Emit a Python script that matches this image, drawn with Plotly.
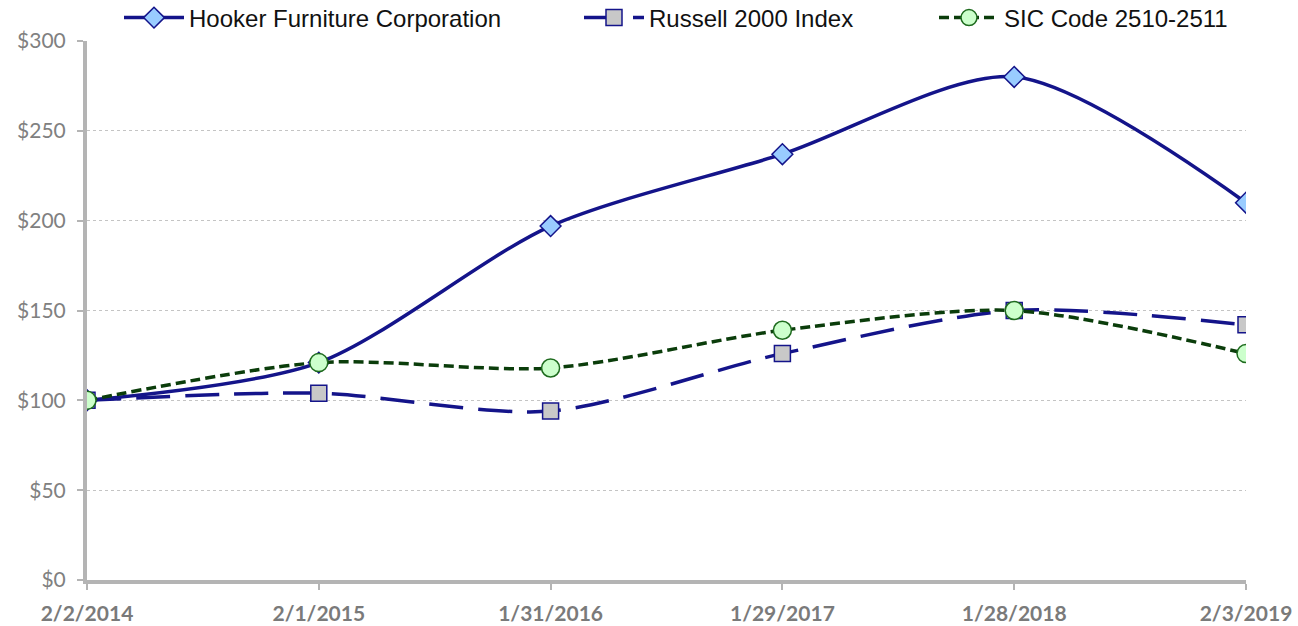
import plotly.graph_objects as go

dates = ["2/2/2014", "2/1/2015", "1/31/2016", "1/29/2017", "1/28/2018", "2/3/2019"]
hooker = [100, 121, 197, 237, 280, 210]
russell = [100, 104, 94, 126, 150, 142]
sic = [100, 121, 118, 139, 150, 126]
y_ticks = [0, 50, 100, 150, 200, 250, 300]
y_labels = ["$0", "$50", "$100", "$150", "$200", "$250", "$300"]

NAVY = "#14148a"
GREEN = "#0b3d0b"

fig = go.Figure()
fig.add_trace(go.Scatter(
    x=dates, y=hooker, name="Hooker Furniture Corporation", mode="lines+markers", legend="legend",
    line=dict(color=NAVY, width=3.5, shape="spline", smoothing=0.8),
    marker=dict(symbol="diamond", size=16, color="#99ccff", line=dict(color=NAVY, width=1.5))))
fig.add_trace(go.Scatter(
    x=dates, y=russell, name="Russell 2000 Index", mode="lines+markers", legend="legend2",
    line=dict(color=NAVY, width=3.5, shape="spline", smoothing=0.8, dash="34px,15px"),
    marker=dict(symbol="square", size=16, color="#c8c8c8", line=dict(color=NAVY, width=1.5))))
fig.add_trace(go.Scatter(
    x=dates, y=sic, name="SIC Code 2510-2511", mode="lines+markers", legend="legend3",
    line=dict(color=GREEN, width=3.5, shape="spline", smoothing=0.8, dash="10px,5px"),
    marker=dict(symbol="circle", size=18, color="#ccffcc", line=dict(color="#1e6b1e", width=1.5))))

leg_common = dict(orientation="h", xref="container", yref="container", yanchor="middle",
                  xanchor="left", font=dict(family="Liberation Sans, Arial", size=24, color="#111"),
                  itemwidth=60, bgcolor="rgba(0,0,0,0)", borderwidth=0)
fig.update_layout(
    width=1298, height=626,
    margin=dict(l=87, r=52, t=41, b=46, autoexpand=False),
    paper_bgcolor="white", plot_bgcolor="white",
    font=dict(family="Liberation Sans, Arial", color="#222"),
    showlegend=True,
    legend=dict(x=119 / 1298, y=1 - 18 / 626, **leg_common),
    legend2=dict(x=579 / 1298, y=1 - 18 / 626, **leg_common),
    legend3=dict(x=934 / 1298, y=1 - 18 / 626, **leg_common),
    xaxis=dict(type="category", range=[0, 5], showgrid=False, showline=True,
               linecolor="#b4b4b4", linewidth=4, ticks="outside", ticklen=6,
               tickcolor="#b4b4b4", tickwidth=2, ticklabelstandoff=6,
               tickfont=dict(family="Lato, Liberation Sans", size=21, color="#7a7a7a", weight="bold"),
               zeroline=False, automargin=False),
    yaxis=dict(range=[0, 300], tickvals=y_ticks, ticktext=y_labels, showgrid=True,
               gridcolor="#c4c4c4", griddash="dot", gridwidth=1, showline=True,
               linecolor="#b4b4b4", linewidth=4, ticks="outside", ticklen=6,
               tickcolor="#b4b4b4", tickwidth=2, zeroline=False, ticklabelstandoff=7,
               tickfont=dict(family="Lato, Liberation Sans", size=21, color="#808080"),
               automargin=False),
)
fig.write_html("out.html", config={"displayModeBar": False},
               post_script="document.body.style.margin='0';")
